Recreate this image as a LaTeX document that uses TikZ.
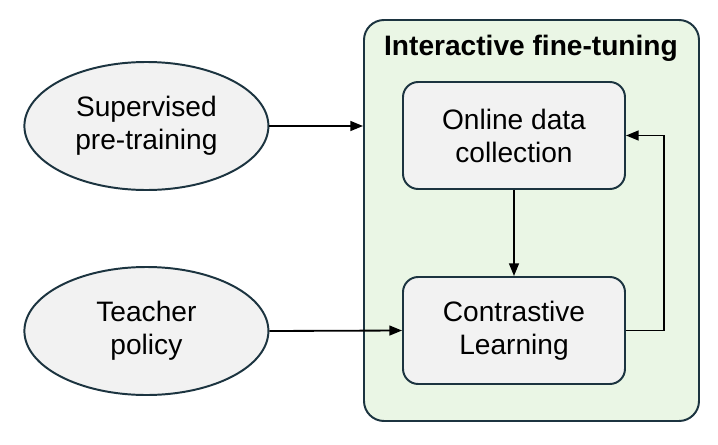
\documentclass[tikz,border=0pt]{standalone}
\usepackage{fontspec}
\setmainfont{Liberation Sans}
\usepackage{tikz}
\usetikzlibrary{calc,positioning,arrows.meta,shapes}
\definecolor{edgeblue}{RGB}{28,52,64}
\definecolor{boxgray}{RGB}{242,242,242}
\definecolor{ftgreen}{RGB}{234,246,229}
\tikzset{
	>={Triangle[length=9pt,width=7pt]},
	every node/.style={font=\fontsize{20}{23.5}\selectfont, align=center},
	source/.style={ellipse, draw=edgeblue, line width=1.4pt, fill=boxgray, minimum width=6.1cm, minimum height=3.2cm, inner sep=0pt},
	block/.style={rectangle, rounded corners=0.38cm, draw=edgeblue, line width=1.4pt, fill=boxgray, minimum width=5.55cm, minimum height=2.675cm, inner sep=0pt},
	frame/.style={rectangle, rounded corners=0.5cm, draw=edgeblue, line width=1.4pt, fill=ftgreen, minimum width=8.375cm, minimum height=10.025cm, inner sep=0pt},
	link/.style={->, line width=1.3pt, black},
}

\begin{document}
\begin{tikzpicture}
		\useasboundingbox (0,0) rectangle (17.95,11.1);

		\node[frame] (ft) at (13.2875,5.5875) {};
		\node[font=\fontsize{20}{23.5}\selectfont\bfseries] (title) at (13.275,9.9) {Interactive fine-tuning};

		\node[source] (sup) at (3.66,7.95) {Supervised\\pre-training};
		\node[source] (teach) at (3.66,2.825) {Teacher\\policy};

		\node[block] (collect) at (12.85,7.7125) {Online data\\collection};
		\node[block] (contrast) at (12.85,2.8375) {Contrastive\\Learning};

		\coordinate (loop) at (16.6,0);

		\draw[link] (sup.east) -- (sup.east -| ft.west);
		\draw[link] (teach.east) -- (contrast.west);
		\draw[link] (collect.south) -- (contrast.north);
		\draw[link] (contrast.east) -- (contrast.east -| loop) -- (collect.east -| loop) -- (collect.east);
	\end{tikzpicture}
\end{document}
